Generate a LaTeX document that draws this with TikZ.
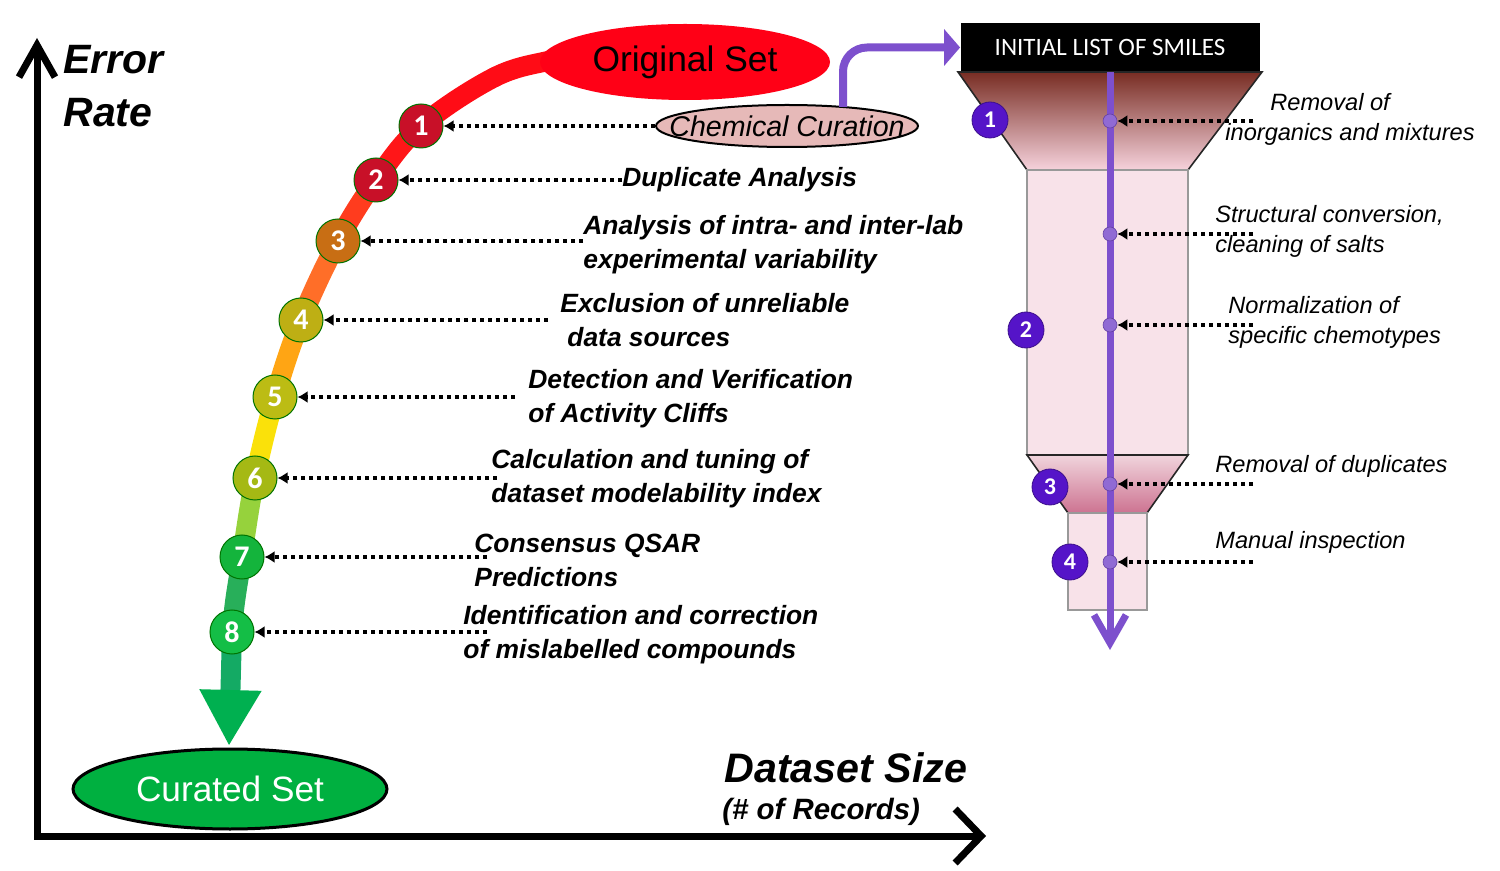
\documentclass[tikz,border=0pt]{standalone}
\usepackage{fontspec}
\setmainfont{Liberation Sans}
\newfontfamily\calfont{Carlito}
\usetikzlibrary{arrows.meta,calc,shapes.geometric}
\definecolor{SetRed}  {RGB}{255,0,22}
\definecolor{CurPink} {RGB}{230,185,184}
\definecolor{SetGrn}  {RGB}{0,176,64}
\definecolor{HeadGrn} {RGB}{0,176,80}
\definecolor{SegA}{RGB}{255,12,22}
\definecolor{SegB}{RGB}{255,22,24}
\definecolor{SegC}{RGB}{255,60,30}
\definecolor{SegD}{RGB}{255,110,40}
\definecolor{SegE}{RGB}{255,165,20}
\definecolor{SegF}{RGB}{250,225,10}
\definecolor{SegG}{RGB}{150,210,60}
\definecolor{SegH}{RGB}{40,175,90}
\definecolor{SegI}{RGB}{20,170,100}
\definecolor{NumA}{RGB}{200,16,40}
\definecolor{NumB}{RGB}{200,110,20}
\definecolor{NumC}{RGB}{190,175,20}
\definecolor{NumD}{RGB}{188,188,20}
\definecolor{NumE}{RGB}{165,185,20}
\definecolor{NumF}{RGB}{20,180,60}
\definecolor{NumG}{RGB}{20,190,70}
\definecolor{PurLine}{RGB}{125,80,205}
\definecolor{PurNum} {RGB}{85,20,200}
\definecolor{FunTop} {RGB}{120,45,35}
\definecolor{FunMid} {RGB}{185,100,120}
\definecolor{FunBot} {RGB}{246,210,220}
\definecolor{FunBody}{RGB}{248,226,233}
\definecolor{NeckTop}{RGB}{240,212,220}
\definecolor{NeckBot}{RGB}{205,115,145}
\tikzset{
  axisln/.style={line width=3.5pt},
  band/.style={line width=10pt,line cap=round},
  numc/.style={circle,draw=green!45!black,line width=0.5pt,minimum size=22pt,inner sep=0pt,text=white,font=\calfont\bfseries\fontsize{15}{15}\selectfont},
  pnum/.style={circle,fill=PurNum,draw=PurNum!70!black,line width=0.4pt,minimum size=18pt,inner sep=0pt,text=white,font=\calfont\bfseries\fontsize{12}{12}\selectfont},
  pdot/.style={circle,fill=PurLine!85!white,draw=PurLine!80!black,line width=0.3pt,minimum size=7pt,inner sep=0pt},
  dotarr/.style={line width=2pt,dash pattern=on 2pt off 2pt,-{Latex[length=5pt,width=6pt]}},
  lbl/.style={anchor=west,inner sep=0pt,align=left,font=\bfseries\itshape\fontsize{13.2}{17}\selectfont},
  rlbl/.style={anchor=west,inner sep=0pt,align=left,font=\itshape\fontsize{11.8}{15}\selectfont},
}
\begin{document}
\begin{tikzpicture}[x=0.5pt,y=-0.5pt]
\useasboundingbox (0,0) rectangle (1500,871);
% axes
\coordinate (ytop) at (37,38);
\coordinate (orig) at (37,836);
\coordinate (xend) at (986,836);
\draw[axisln,{Straight Barb[length=16pt,width=18pt]}-{Straight Barb[length=13pt,width=27pt]}](ytop)--(orig)--(xend);
\node[anchor=west,inner sep=0pt,align=left,font=\bfseries\itshape\fontsize{20.5}{26.5}\selectfont] at (63,86)(err){Error\\Rate};
\node[anchor=west,inner sep=0pt,font=\bfseries\itshape\fontsize{20.6}{24}\selectfont] at (724,768)(dsz){Dataset Size};
\node[anchor=west,inner sep=0pt,font=\bfseries\itshape\fontsize{14.7}{17}\selectfont] at (722,812)(rec){(\# of Records)};
% curve
\coordinate (q0)  at (600,50);
\coordinate (q1)  at (552,60);
\coordinate (q2)  at (495,77);
\coordinate (q3)  at (421,126);
\coordinate (q4)  at (376,180);
\coordinate (q5)  at (338,241);
\coordinate (q6)  at (301,320);
\coordinate (q7)  at (275,397);
\coordinate (q8)  at (255,478);
\coordinate (q9)  at (242,557);
\coordinate (q10) at (232,632);
\coordinate (q11) at (229,746);
\foreach \a/\b/\c/\d/\col in {q0/q1/q2/q3/SegA,q1/q2/q3/q4/SegA,q2/q3/q4/q5/SegB,q3/q4/q5/q6/SegC,
    q4/q5/q6/q7/SegD,q5/q6/q7/q8/SegE,q6/q7/q8/q9/SegF,q7/q8/q9/q10/SegG,q8/q9/q10/q11/SegH}{
  \draw[band,\col](\b) .. controls ($(\b)+0.1667*(\c)-0.1667*(\a)$) and ($(\c)-0.1667*(\d)+0.1667*(\b)$) .. (\c);}
\draw[band,SegI,-{Triangle[length=28pt,width=29pt,color=HeadGrn]}](q10)--(q11);
\node[ellipse,fill=SetRed,minimum width=145pt,minimum height=38pt,inner sep=0pt,font=\fontsize{17.7}{20}\selectfont] at (685,62)(oset){Original Set};
\node[ellipse,draw=black,line width=1pt,fill=CurPink,minimum width=130pt,minimum height=21pt,inner xsep=-12.5pt,inner ysep=-3pt,font=\itshape\fontsize{14.3}{16}\selectfont] at (787,126)(cc){Chemical Curation};
\node[ellipse,draw=black,line width=1.5pt,fill=SetGrn,minimum width=157pt,minimum height=40pt,inner sep=0pt,text=white,font=\fontsize{17.6}{20}\selectfont] at (230,789)(cset){Curated Set};
% numbered steps
\node[numc,fill=NumA] at (q3)(n1){1};
\node[numc,fill=NumA] at (q4)(n2){2};
\node[numc,fill=NumB] at (q5)(n3){3};
\node[numc,fill=NumC] at (q6)(n4){4};
\node[numc,fill=NumD] at (q7)(n5){5};
\node[numc,fill=NumE] at (q8)(n6){6};
\node[numc,fill=NumF] at (q9)(n7){7};
\node[numc,fill=NumG] at (q10)(n8){8};
% step labels
\node[lbl] at (622,180)(l2){Duplicate Analysis};
\node[lbl] at (583,244.5)(l3){Analysis of intra- and inter-lab\\experimental variability};
\node[lbl] at (560,320)(l4){Exclusion of unreliable\\\hspace*{3.5pt}data sources};
\node[lbl] at (528,398.5)(l5){Detection and Verification\\of Activity Cliffs};
\node[lbl] at (491,479)(l6){Calculation and tuning of\\dataset modelability index};
\node[lbl] at (474,560.5)(l7){Consensus QSAR\\Predictions};
\node[lbl] at (463,635)(l8){Identification and correction\\of mislabelled compounds};
\coordinate (s2) at (622,180);
\coordinate (s3) at (583,241);
\coordinate (s4) at (548,320);
\coordinate (s5) at (515,397);
\coordinate (s6) at (497,478);
\coordinate (s7) at (487,557);
\coordinate (s8) at (487,632);
\draw[dotarr](cc.west)--(n1);
\foreach \s/\n in {s2/n2,s3/n3,s4/n4,s5/n5,s6/n6,s7/n7,s8/n8}{\draw[dotarr](\s)--(\n);}
% funnel
\node[fill=black,minimum width=149.5pt,minimum height=24.5pt,inner sep=0pt,text=white,font=\calfont\fontsize{12.5}{14}\selectfont] at (1110,47.5)(smiles){INITIAL LIST OF SMILES};
\coordinate (pa) at (843,107);
\draw[line width=4pt,PurLine,rounded corners=12pt,-{Triangle[length=8pt,width=18pt]}](pa)|-(smiles.west);
\draw[black!85,line width=0.8pt,top color=FunTop,middle color=FunMid,bottom color=FunBot](958,72)--(1262,72)--(1188,170)--(1027,170)--cycle;
\draw[black!40,line width=0.6pt,fill=FunBody](1027,170) rectangle (1188,455);
\draw[black!85,line width=0.8pt,top color=NeckTop,bottom color=NeckBot](1027,455)--(1188,455)--(1147,513)--(1068,513)--cycle;
\draw[black!40,line width=0.6pt,fill=FunBody](1068,513) rectangle (1147,610);
\coordinate (vend) at (1110,650);
\draw[line width=3.5pt,PurLine,-{Straight Barb[length=14pt,width=16pt]}](smiles.south)--(vend);
\node[pnum] at (990,120)(f1){1};
\node[pnum] at (1026,330)(f2){2};
\node[pnum] at (1050,487)(f3){3};
\node[pnum] at (1070,562)(f4){4};
\node[pdot] at (1110,121)(d1){};
\node[pdot] at (1110,234)(d2){};
\node[pdot] at (1110,325)(d3){};
\node[pdot] at (1110,484)(d4){};
\node[pdot] at (1110,562)(d5){};
\node[rlbl] at (1225,119)(r1){\hspace*{22.5pt}Removal of\\inorganics and mixtures};
\node[rlbl] at (1215,231)(r2){Structural conversion,\\cleaning of salts};
\node[rlbl] at (1228,322)(r3){Normalization of\\specific chemotypes};
\node[rlbl] at (1215,466)(r4){Removal of duplicates};
\node[rlbl] at (1215,542)(r5){Manual inspection};
\foreach \y/\d in {121/d1,234/d2,325/d3,484/d4,562/d5}{\coordinate (e\d) at (1253,\y); \draw[dotarr](e\d)--(\d);}
\end{tikzpicture}
\end{document}
